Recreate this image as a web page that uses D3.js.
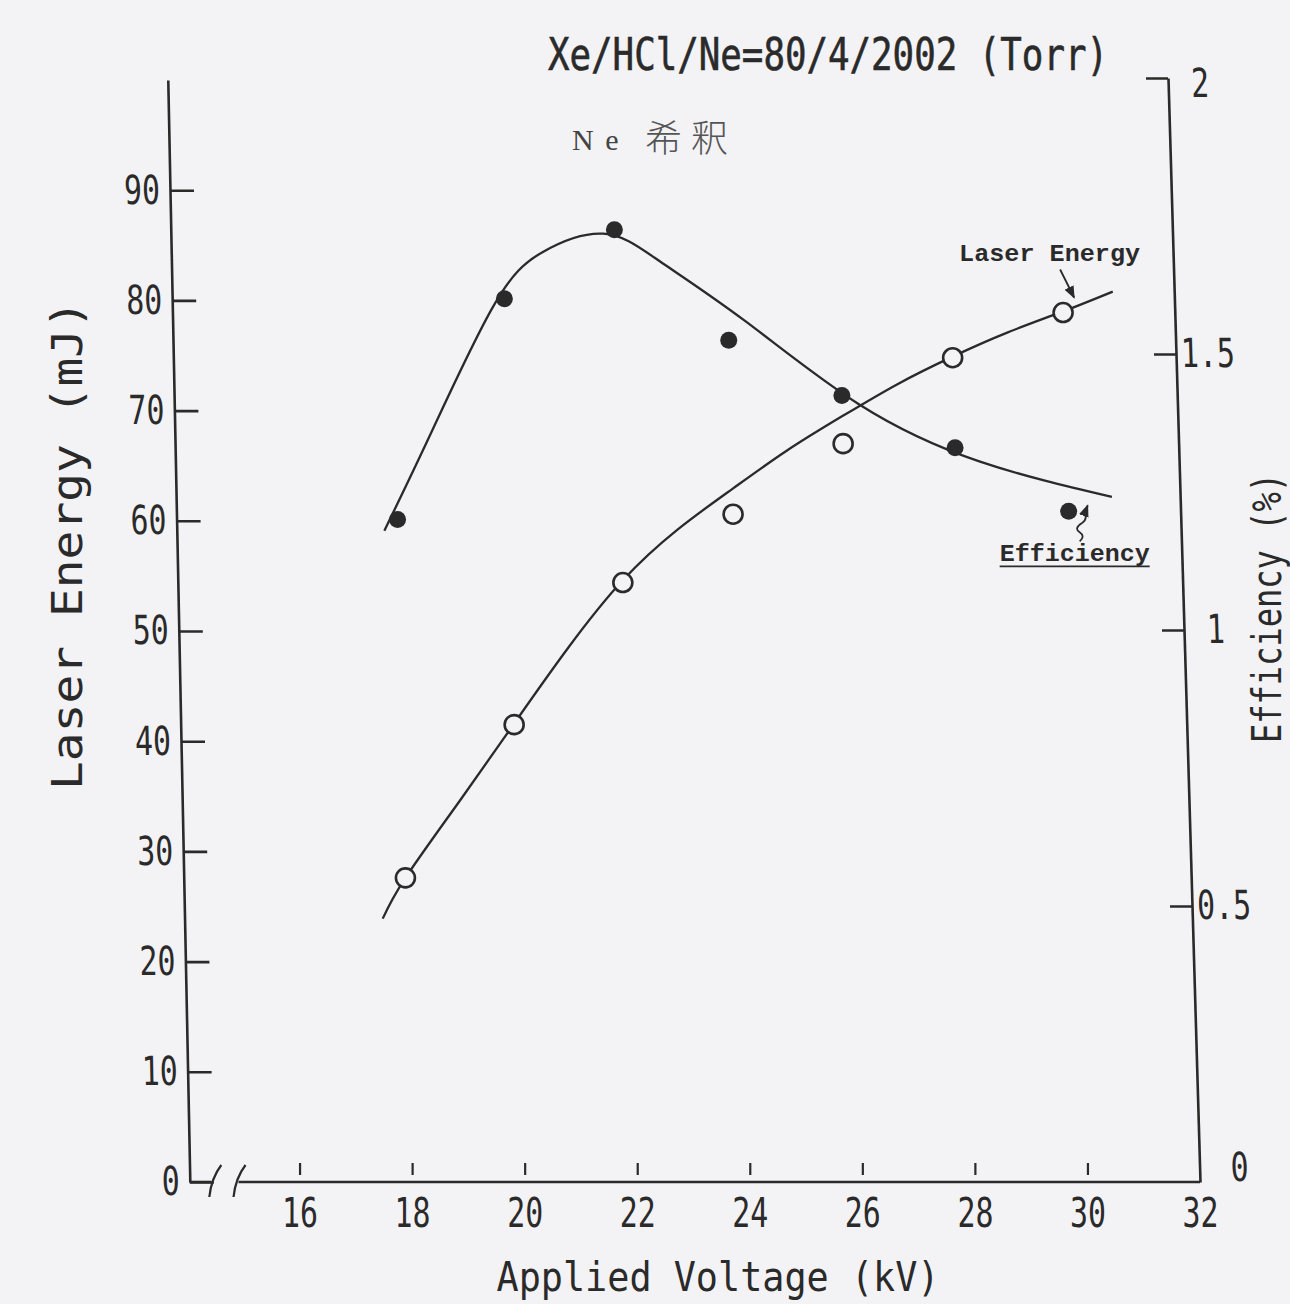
<!DOCTYPE html>
<html>
<head>
<meta charset="utf-8">
<script src="https://cdn.jsdelivr.net/npm/d3@7"></script>
<style>
  html, body { margin: 0; padding: 0; background: #f3f2f5; }
  svg { display: block; }
</style>
</head>
<body>
<div id="chart"></div>
<script>
var voltage = [18, 20, 22, 24, 26, 28, 30];
var laserEnergy = [27.6, 41.5, 54.4, 60.6, 67.0, 74.8, 78.9];
var efficiency = [1.20, 1.60, 1.725, 1.525, 1.425, 1.33, 1.215];

// hand drawn fit curves
var energyFitV = [17.58, 18, 19, 20, 21, 22, 23, 24, 25, 26, 27, 28, 29, 30, 30.9];
var energyFitE = [23.9, 27.6, 34.6, 41.6, 48.5, 54.6, 59.2, 62.9, 66.4, 69.5, 72.4, 74.9, 77.1, 79.0, 80.8];
var effFitV = [17.76, 18.6, 19.79, 20.71, 21.8, 22.8, 24.3, 26.3, 28.44, 30.78];
var effFitE = [1.18, 1.35, 1.585, 1.685, 1.718, 1.668, 1.56, 1.409, 1.305, 1.241];

// ticks
var voltTicks = [16, 18, 20, 22, 24, 26, 28, 30, 32];
var energyTicks = [0, 10, 20, 30, 40, 50, 60, 70, 80, 90];
var effTicks = [0, 0.5, 1, 1.5, 2];

var W = 1290, H = 1304;
var ink = "#2a2a2a";
var paper = "#f3f2f5";
var mono = "'DejaVu Sans Mono', monospace";

var svg = d3.select("#chart").append("svg")
    .attr("width", W)
    .attr("height", H)
    .style("background", paper);

var xs = d3.scaleLinear().domain([14, 32]).range([187, 1200]);
var yE = d3.scaleLinear().domain([0, 100]).range([1182, 80]);
var yR = d3.scaleLinear().domain([0, 2]).range([1182, 78]);
var baseY = yE(0);

// the scanned page leans a little (more on the right than on the left)
function lean(px) { return 0.02 + 0.009 * (px - 190) / 1010; }
function projX(v, py) {
    var px = xs(v);
    return px - lean(px) * (baseY - py);
}
function skewAt(x0, k) {
    var deg = Math.atan(k) * 180 / Math.PI;
    return "translate(" + x0 + "," + baseY + ") skewX(" + deg + ") translate(0," + (-baseY) + ")";
}

function styleAxis(g, sw) {
    g.selectAll("path.domain").attr("stroke", ink).attr("stroke-width", sw);
    g.selectAll(".tick line").attr("stroke", ink).attr("stroke-width", sw);
    g.selectAll(".tick text")
        .attr("fill", ink)
        .attr("font-family", mono)
        .attr("font-size", 40)
        .attr("textLength", function (d) { return String(d).length * 18; })
        .attr("lengthAdjust", "spacingAndGlyphs");
}

// left axis
var leftX = xs(14.05);
var gl = svg.append("g")
    .attr("transform", skewAt(leftX, lean(leftX)))
    .call(d3.axisLeft(yE).tickValues(energyTicks).tickSizeInner(-24).tickSizeOuter(0)
        .tickPadding(10).tickFormat(String));
styleAxis(gl, 2.6);

// right axis
var rightX = xs(32);
var gr = svg.append("g")
    .attr("transform", skewAt(rightX, lean(rightX)))
    .call(d3.axisRight(yR).tickValues(effTicks).tickSizeInner(-22).tickSizeOuter(0)
        .tickFormat(String));
styleAxis(gr, 2.6);
gr.selectAll(".tick text")
    .attr("text-anchor", "middle")
    .attr("x", function (d) { return d === 0 ? 40 : 32; })
    .attr("dy", function (d) { return d === 0 ? "-0.05em" : (d === 2 ? "0.45em" : "0.32em"); });
gr.selectAll(".tick").filter(function (d) { return d === 0; }).select("line").remove();

// bottom axis with a break near the origin
var breakAt = [14.45, 14.88];
var gb = svg.append("g")
    .attr("transform", "translate(0," + baseY + ")")
    .call(d3.axisBottom(xs).tickValues(voltTicks).tickSizeInner(-19).tickSizeOuter(0)
        .tickPadding(17).tickFormat(String));
gb.select("path.domain").remove();
styleAxis(gb, 2.2);
gb.selectAll(".tick line").attr("y1", -7);
gb.selectAll(".tick").filter(function (d) { return d === 32; }).select("line").remove();

var axisPen = svg.append("g")
    .attr("fill", "none")
    .attr("stroke", ink)
    .attr("stroke-width", 2.6);
axisPen.append("line")
    .attr("x1", xs(breakAt[1]) + 2).attr("x2", xs(32))
    .attr("y1", baseY).attr("y2", baseY);
axisPen.append("line")
    .attr("x1", leftX).attr("x2", xs(breakAt[0]) - 1)
    .attr("y1", baseY).attr("y2", baseY);
breakAt.forEach(function (b) {
    var bx = xs(b);
    axisPen.append("path")
        .attr("stroke-width", 2.2)
        .attr("d", "M" + (bx - 3) + "," + (baseY + 15) + " Q" + (bx - 1) + "," + (baseY - 4) +
            " " + (bx + 9) + "," + (baseY - 17));
});

// fit curves
var fitE = energyFitV.map(function (v, i) { return [v, energyFitE[i]]; });
var fitR = effFitV.map(function (v, i) { return [v, effFitE[i]]; });

var lineE = d3.line()
    .x(function (d) { return projX(d[0], yE(d[1])); })
    .y(function (d) { return yE(d[1]); })
    .curve(d3.curveNatural);
var lineR = d3.line()
    .x(function (d) { return projX(d[0], yR(d[1])); })
    .y(function (d) { return yR(d[1]); })
    .curve(d3.curveNatural);

svg.append("path").datum(fitE)
    .attr("d", lineE)
    .attr("fill", "none").attr("stroke", ink).attr("stroke-width", 2.3);
svg.append("path").datum(fitR)
    .attr("d", lineR)
    .attr("fill", "none").attr("stroke", ink).attr("stroke-width", 2.3);

// efficiency: filled dots
svg.selectAll("circle.eff")
    .data(voltage)
    .enter()
    .append("circle")
    .attr("class", "eff")
    .attr("cx", function (v, i) { return projX(v, yR(efficiency[i])); })
    .attr("cy", function (v, i) { return yR(efficiency[i]); })
    .attr("r", 8.5)
    .attr("fill", ink);

// laser energy: open dots
svg.selectAll("circle.en")
    .data(voltage)
    .enter()
    .append("circle")
    .attr("class", "en")
    .attr("cx", function (v, i) { return projX(v, yE(laserEnergy[i])); })
    .attr("cy", function (v, i) { return yE(laserEnergy[i]); })
    .attr("r", 9.5)
    .attr("fill", paper)
    .attr("stroke", ink)
    .attr("stroke-width", 2.6);

// titles
svg.append("text")
    .attr("x", 828).attr("y", 70)
    .attr("text-anchor", "middle")
    .attr("font-family", mono).attr("font-size", 44)
    .attr("fill", ink).attr("stroke", ink).attr("stroke-width", 0.6)
    .attr("textLength", 560).attr("lengthAdjust", "spacingAndGlyphs")
    .text("Xe/HCl/Ne=80/4/2002 (Torr)");

svg.append("text")
    .attr("x", 572).attr("y", 150)
    .attr("font-family", "'Liberation Serif', serif").attr("font-size", 30)
    .attr("fill", "#444").attr("letter-spacing", 2)
    .text("N e");
svg.append("text")
    .attr("x", 645).attr("y", 152)
    .attr("font-family", "'Noto Sans CJK JP', sans-serif").attr("font-size", 37)
    .attr("font-weight", 300)
    .attr("fill", "#555").attr("letter-spacing", 9)
    .text("希釈");

svg.append("text")
    .attr("transform", "translate(82,545) rotate(-90)")
    .attr("text-anchor", "middle")
    .attr("font-family", mono).attr("font-size", 42)
    .attr("fill", ink)
    .attr("textLength", 490).attr("lengthAdjust", "spacingAndGlyphs")
    .text("Laser Energy (mJ)");

svg.append("text")
    .attr("transform", "translate(1281,608) rotate(-90)")
    .attr("text-anchor", "middle")
    .attr("font-family", mono).attr("font-size", 40)
    .attr("fill", ink)
    .attr("textLength", 270).attr("lengthAdjust", "spacingAndGlyphs")
    .text("Efficiency (%)");

svg.append("text")
    .attr("x", 718).attr("y", 1291)
    .attr("text-anchor", "middle")
    .attr("font-family", mono).attr("font-size", 40)
    .attr("fill", ink)
    .attr("textLength", 443).attr("lengthAdjust", "spacingAndGlyphs")
    .text("Applied Voltage (kV)");

// series call-outs
var last = voltage.length - 1;
var pE = [projX(voltage[last], yE(laserEnergy[last])), yE(laserEnergy[last])];
var pR = [projX(voltage[last], yR(efficiency[last])), yR(efficiency[last])];
var callFont = "'Liberation Mono', monospace";

svg.append("defs").append("marker")
    .attr("id", "tip")
    .attr("viewBox", "0 0 10 10")
    .attr("refX", 9).attr("refY", 5)
    .attr("markerWidth", 7).attr("markerHeight", 7)
    .attr("orient", "auto")
    .append("path")
    .attr("d", "M0,1 L10,5 L0,9 z")
    .attr("fill", ink);

svg.append("text")
    .attr("x", pE[0] - 104).attr("y", pE[1] - 52)
    .attr("font-family", callFont).attr("font-size", 24).attr("font-weight", "bold")
    .attr("fill", ink)
    .attr("textLength", 181).attr("lengthAdjust", "spacingAndGlyphs")
    .text("Laser Energy");
svg.append("path")
    .attr("d", "M" + (pE[0] - 3) + "," + (pE[1] - 43) + " L" + (pE[0] + 11) + "," + (pE[1] - 15))
    .attr("fill", "none").attr("stroke", ink).attr("stroke-width", 1.8)
    .attr("marker-end", "url(#tip)");

svg.append("text")
    .attr("x", pR[0] - 69).attr("y", pR[1] + 50)
    .attr("font-family", callFont).attr("font-size", 24).attr("font-weight", "bold")
    .attr("fill", ink)
    .attr("textLength", 150).attr("lengthAdjust", "spacingAndGlyphs")
    .text("Efficiency");
svg.append("line")
    .attr("x1", pR[0] - 69).attr("x2", pR[0] + 81)
    .attr("y1", pR[1] + 55).attr("y2", pR[1] + 55)
    .attr("stroke", ink).attr("stroke-width", 1.8);
svg.append("path")
    .attr("d", "M" + (pR[0] + 11) + "," + (pR[1] + 30) +
        " q6,-5 0,-9 q-6,-4 2,-9 q6,-4 3,-10 L" + (pR[0] + 19) + "," + (pR[1] - 6))
    .attr("fill", "none").attr("stroke", ink).attr("stroke-width", 1.8)
    .attr("marker-end", "url(#tip)");
</script>
</body>
</html>
